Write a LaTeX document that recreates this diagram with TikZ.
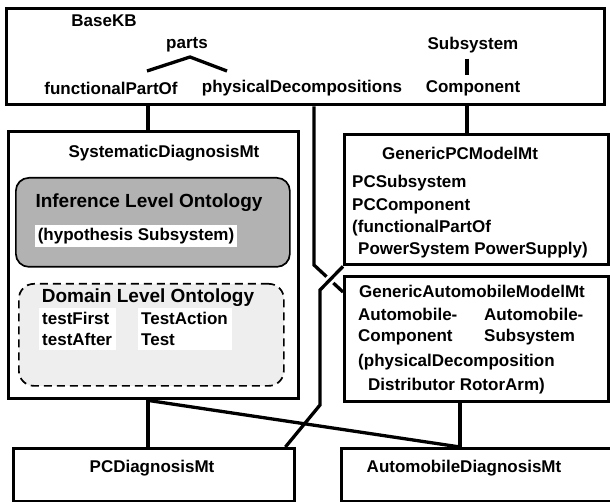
\documentclass[tikz,border=0pt]{standalone}
\usepackage{fontspec}
\setmainfont{Liberation Sans}
\usetikzlibrary{calc}

\definecolor{inferencegray}{RGB}{178,178,178}
\definecolor{domaingray}{RGB}{238,238,238}

\tikzset{
  mt/.style args={#1x#2}{draw, line width=3.4pt, anchor=north west, inner sep=0pt,
    minimum width=#1, minimum height=#2},
  conn/.style={line width=3.3pt},
  lbl/.style={inner sep=1pt, font=\bfseries\fontsize{17}{21}\selectfont},
  big/.style={inner sep=1pt, font=\bfseries\fontsize{19}{23}\selectfont},
  wbox/.style={lbl, fill=white, align=left, inner xsep=3pt, inner ysep=4pt, anchor=north west},
  ontology/.style={draw, line width=1.7pt, anchor=north west, inner sep=0pt}
}

\begin{document}
\begin{tikzpicture}[x=1pt, y=-1pt]
  \useasboundingbox (0,0) rectangle (610,502);

  % the microtheories
  \node[mt=598x96] (basekb) at (5,7) {};
  \node[mt=290x267] (sysdiag) at (7,130) {};
  \node[mt=264x130] (genpc) at (343,133) {};
  \node[mt=264x125] (automodel) at (343,275) {};
  \node[mt=281x53] (pcdiag) at (12,447) {};
  \node[mt=285x53] (autodiag) at (340,447) {};

  % BaseKB
  \node[lbl] (basekbtitle) at (104,21) {BaseKB};
  \node[lbl] (parts) at (187,45) {parts};
  \node[lbl] (subsys) at (473,45) {Subsystem};
  \node[lbl] (fpo) at (111,88) {functionalPartOf};
  \node[lbl] (pd) at (302,88) {physicalDecompositions};
  \node[lbl] (comp) at (473,88) {Component};

  % SystematicDiagnosisMt with the two ontologies
  \node[lbl] (systitle) at (164,153) {SystematicDiagnosisMt};
  \node[ontology, rounded corners=13pt, fill=inferencegray,
    minimum width=274, minimum height=89] (infer) at (15,177) {};
  \node[ontology, rounded corners=15pt, fill=domaingray, dash pattern=on 8pt off 5pt,
    minimum width=265, minimum height=102] (domain) at (18,283) {};
  \node[big] (infertitle) at (149,203) {Inference Level Ontology};
  \node[lbl, fill=white, inner xsep=3pt, inner ysep=3.5pt] (hyp) at (136,236) {(hypothesis Subsystem)};
  \node[big] (domaintitle) at (148,298) {Domain Level Ontology};
  \node[wbox, text width=71pt] (tests) at (39,308) {testFirst\\testAfter};
  \node[wbox, text width=88pt] (testkinds) at (138,308) {TestAction\\Test};

  % GenericPCModelMt
  \node[lbl] (pctitle) at (460,153) {GenericPCModelMt};
  \foreach \y/\txt in {183/PCSubsystem, 206/PCComponent, 228/{(functionalPartOf}}
    \node[lbl, anchor=west] (pcline\y) at (351,\y) {\txt};
  \node[lbl, anchor=west] (pcline250) at (357,250) {PowerSystem PowerSupply)};

  % GenericAutomobileModelMt
  \node[lbl] (autotitle) at (472,291) {GenericAutomobileModelMt};
  \node[lbl, anchor=west, align=left] (autocomp) at (357,327) {Automobile-\\Component};
  \node[lbl, anchor=west, align=left] (autosub) at (483,327) {Automobile-\\Subsystem};
  \node[lbl, anchor=west] (physdec) at (357,362) {(physicalDecomposition};
  \node[lbl, anchor=west] (rotor) at (367,386) {Distributor RotorArm)};

  \node[lbl] (pcdiagtitle) at (152,468) {PCDiagnosisMt};
  \node[lbl] (autodiagtitle) at (464,468) {AutomobileDiagnosisMt};

  % connector positions
  \coordinate (xa) at (148,0);
  \coordinate (xb) at (314,0);
  \coordinate (xc) at (467,0);
  \coordinate (xd) at (460,0);
  \coordinate (partsL) at (147,71);
  \coordinate (partsTop) at (190,57);
  \coordinate (partsR) at (227,71);
  \coordinate (pdkink) at (314,265);
  \coordinate (pcbendA) at (320,290);
  \coordinate (pcbendB) at (320,405);

  \draw[conn] (partsL) -- (partsTop) -- (partsR);
  \draw[conn, shorten <=4.5pt, shorten >=4.5pt] (subsys.south -| xc) -- (comp.north -| xc);

  \draw[conn] (basekb.south -| xa) -- (sysdiag.north -| xa);
  \draw[conn] (basekb.south -| xc) -- (genpc.north -| xc);
  \draw[conn] (basekb.south -| xb) -- (pdkink) -- ($(automodel.north west)+(0,17)$);
  % gap where the two lines cross
  \draw[white, line width=9pt] ($(genpc.south west)!0.3!(pcbendA)$) -- ($(genpc.south west)!0.8!(pcbendA)$);
  \draw[conn] (genpc.south west) -- (pcbendA) -- (pcbendB) -- ($(pcdiag.north east)+(-11,0)$);

  \draw[conn] (sysdiag.south -| xa) -- (pcdiag.north -| xa);
  \draw[conn] (sysdiag.south -| xa) -- (autodiag.north -| xd);
  \draw[conn] (automodel.south -| xd) -- (autodiag.north -| xd);
\end{tikzpicture}
\end{document}
